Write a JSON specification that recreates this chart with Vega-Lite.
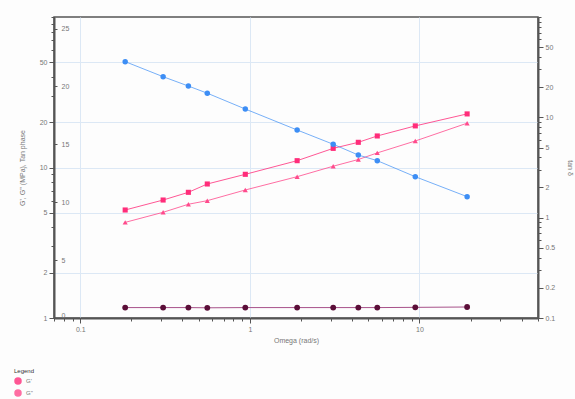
{
  "$schema": "https://vega.github.io/schema/vega-lite/v6.json",
  "autosize": "none",
  "width": 484,
  "height": 301,
  "padding": {"left": 54, "top": 17, "right": 37, "bottom": 81},
  "background": "#fdfdfd",
  "config": {
    "view": {"stroke": "#555", "strokeWidth": 1.5},
    "font": "Liberation Sans",
    "axis": {
      "labelFontSize": 7,
      "labelColor": "#777",
      "titleFontSize": 7,
      "titleColor": "#777",
      "titleFontWeight": "normal",
      "domainColor": "#555",
      "domainWidth": 2,
      "tickColor": "#555",
      "gridColor": "#dce8f5",
      "gridWidth": 1
    }
  },
  "data": {
    "values": [
      {"omega": 0.184, "series": "G'", "v": 5.22},
      {"omega": 0.308, "series": "G'", "v": 6.08},
      {"omega": 0.434, "series": "G'", "v": 6.84},
      {"omega": 0.561, "series": "G'", "v": 7.77},
      {"omega": 0.94, "series": "G'", "v": 9.01},
      {"omega": 1.9, "series": "G'", "v": 11.1},
      {"omega": 3.1, "series": "G'", "v": 13.4},
      {"omega": 4.36, "series": "G'", "v": 14.7},
      {"omega": 5.64, "series": "G'", "v": 16.2},
      {"omega": 9.45, "series": "G'", "v": 18.9},
      {"omega": 19.1, "series": "G'", "v": 22.7},
      {"omega": 0.184, "series": "G''", "v": 4.32},
      {"omega": 0.308, "series": "G''", "v": 5.04},
      {"omega": 0.434, "series": "G''", "v": 5.7},
      {"omega": 0.561, "series": "G''", "v": 6.02},
      {"omega": 0.94, "series": "G''", "v": 7.09},
      {"omega": 1.9, "series": "G''", "v": 8.69},
      {"omega": 3.1, "series": "G''", "v": 10.2},
      {"omega": 4.36, "series": "G''", "v": 11.3},
      {"omega": 5.64, "series": "G''", "v": 12.5},
      {"omega": 9.45, "series": "G''", "v": 15.0},
      {"omega": 19.1, "series": "G''", "v": 19.7},
      {"omega": 0.184, "series": "tan δ", "v": 35.9},
      {"omega": 0.308, "series": "tan δ", "v": 25.4},
      {"omega": 0.434, "series": "tan δ", "v": 20.5},
      {"omega": 0.561, "series": "tan δ", "v": 17.4},
      {"omega": 0.94, "series": "tan δ", "v": 12.1},
      {"omega": 1.9, "series": "tan δ", "v": 7.48},
      {"omega": 3.1, "series": "tan δ", "v": 5.39},
      {"omega": 4.36, "series": "tan δ", "v": 4.21},
      {"omega": 5.64, "series": "tan δ", "v": 3.7},
      {"omega": 9.45, "series": "tan δ", "v": 2.56},
      {"omega": 19.1, "series": "tan δ", "v": 1.62},
      {"omega": 0.184, "series": "T", "v": 0.9},
      {"omega": 0.308, "series": "T", "v": 0.9},
      {"omega": 0.434, "series": "T", "v": 0.9},
      {"omega": 0.561, "series": "T", "v": 0.88},
      {"omega": 0.94, "series": "T", "v": 0.9},
      {"omega": 1.9, "series": "T", "v": 0.9},
      {"omega": 3.1, "series": "T", "v": 0.9},
      {"omega": 4.36, "series": "T", "v": 0.9},
      {"omega": 5.64, "series": "T", "v": 0.9},
      {"omega": 9.45, "series": "T", "v": 0.92},
      {"omega": 19.1, "series": "T", "v": 0.95}
    ]
  },
  "encoding": {
    "x": {
      "field": "omega",
      "type": "quantitative",
      "scale": {"type": "log", "domain": [0.07, 50], "nice": false},
      "axis": {
        "title": "Omega (rad/s)",
        "titlePadding": 4,
        "values": [0.07, 0.08, 0.09, 0.1, 0.2, 0.3, 0.4, 0.5, 0.6, 0.7, 0.8, 0.9, 1, 2, 3, 4, 5, 6, 7, 8, 9, 10, 20, 30, 40, 50],
        "labelExpr": "datum.value == 0.1 ? '0.1' : datum.value == 1 ? '1' : datum.value == 10 ? '10' : ''",
        "grid": true,
        "gridOpacity": {"condition": {"test": "datum.value == 0.1 || datum.value == 1 || datum.value == 10", "value": 1}, "value": 0},
        "tickSize": {"condition": {"test": "datum.value == 0.1 || datum.value == 1 || datum.value == 10", "value": 5}, "value": 3},
        "labelFlush": false
      }
    },
    "color": {
      "field": "series",
      "type": "nominal",
      "scale": {"domain": ["G'", "G''", "tan δ", "T"], "range": ["#ff2d7a", "#ff4a8c", "#3d8ef5", "#5b0e38"]},
      "legend": {
        "orient": "none",
        "legendX": -40,
        "legendY": 351,
        "values": ["G'", "G''"],
        "title": "Legend",
        "titleFontSize": 6,
        "titleColor": "#333",
        "titleFontWeight": "normal",
        "titlePadding": 3,
        "labelFontSize": 6,
        "labelColor": "#777",
        "symbolType": "circle",
        "symbolSize": 36,
        "direction": "vertical",
        "rowPadding": 0
      }
    }
  },
  "layer": [
    {
      "transform": [{"filter": {"field": "series", "oneOf": ["G'", "G''"]}}],
      "encoding": {
        "y": {
          "field": "v",
          "type": "quantitative",
          "scale": {"type": "log", "domain": [1, 100], "nice": false},
          "axis": {
            "orient": "left",
            "title": "G', G'' (MPa), Tan phase",
            "titlePadding": 14,
            "values": [1, 2, 3, 4, 5, 6, 7, 8, 9, 10, 20, 30, 40, 50, 60, 70, 80, 90, 100],
            "labelExpr": "indexof([1, 2, 5, 10, 20, 50], datum.value) >= 0 ? '' + datum.value : ''",
            "grid": true,
            "gridOpacity": {"condition": {"test": "indexof([2, 5, 10, 20, 50], datum.value) >= 0", "value": 1}, "value": 0},
            "tickSize": {"condition": {"test": "indexof([1, 2, 5, 10, 20, 50], datum.value) >= 0", "value": 5}, "value": 3}
          }
        }
      },
      "layer": [
        {"mark": {"type": "line", "strokeWidth": 1, "opacity": 0.8}, "encoding": {"detail": {"field": "series"}}},
        {
          "mark": {"type": "point", "filled": true, "size": 26, "opacity": 1},
          "encoding": {
            "shape": {"field": "series", "type": "nominal", "scale": {"domain": ["G'", "G''"], "range": ["square", "triangle-up"]}, "legend": null}
          }
        }
      ]
    },
    {
      "transform": [{"filter": {"field": "series", "equal": "tan δ"}}],
      "encoding": {
        "y": {
          "field": "v",
          "type": "quantitative",
          "scale": {"type": "log", "domain": [0.1, 100], "nice": false},
          "axis": {
            "orient": "right",
            "title": "tan δ",
            "titlePadding": 12,
            "values": [0.1, 0.2, 0.3, 0.4, 0.5, 0.6, 0.7, 0.8, 0.9, 1, 2, 3, 4, 5, 6, 7, 8, 9, 10, 20, 30, 40, 50, 60, 70, 80, 90, 100],
            "labelExpr": "indexof([0.1, 0.2, 0.5, 1, 2, 5, 10, 20, 50], datum.value) >= 0 ? '' + datum.value : ''",
            "grid": false,
            "tickSize": {"condition": {"test": "indexof([0.1, 0.2, 0.5, 1, 2, 5, 10, 20, 50], datum.value) >= 0", "value": 5}, "value": 3}
          }
        }
      },
      "layer": [
        {"mark": {"type": "line", "strokeWidth": 1, "opacity": 0.7}, "encoding": {}},
        {"mark": {"type": "point", "filled": true, "size": 30, "shape": "circle", "opacity": 1}, "encoding": {}}
      ]
    },
    {
      "transform": [{"filter": {"field": "series", "equal": "T"}}],
      "encoding": {
        "y": {
          "field": "v",
          "type": "quantitative",
          "scale": {"type": "linear", "domain": [0, 26], "nice": false},
          "axis": {
            "orient": "right",
            "offset": -484,
            "title": null,
            "domain": false,
            "values": [0, 5, 10, 15, 20, 25],
            "tickSize": 3,
            "labelPadding": 4,
            "labelFlush": true,
            "grid": false
          }
        }
      },
      "layer": [
        {"mark": {"type": "line", "strokeWidth": 1}, "encoding": {"color": {"value": "#a8528a"}}},
        {"mark": {"type": "point", "filled": true, "size": 34, "shape": "circle", "opacity": 1}, "encoding": {}}
      ]
    }
  ],
  "resolve": {"scale": {"y": "independent"}, "axis": {"y": "independent"}}
}
